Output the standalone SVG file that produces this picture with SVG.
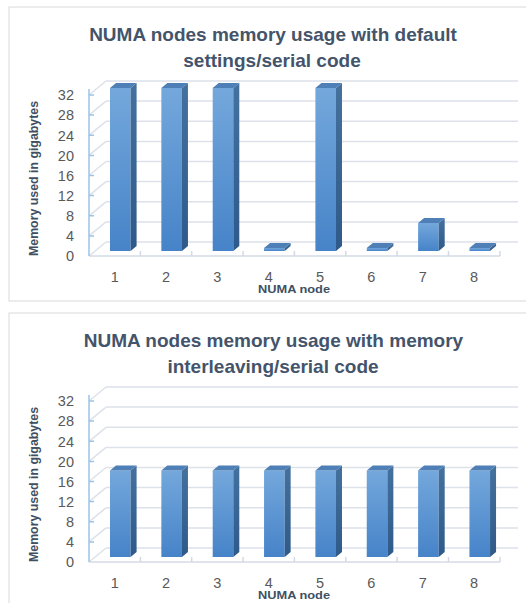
<svg xmlns="http://www.w3.org/2000/svg" width="526" height="603" viewBox="0 0 526 603">
  <defs>
    <linearGradient id="barFront" x1="0" y1="0" x2="0" y2="1">
      <stop offset="0" stop-color="#74a8dc"/>
      <stop offset="1" stop-color="#4683c8"/>
    </linearGradient>
    <linearGradient id="barSide" x1="0" y1="0" x2="0" y2="1">
      <stop offset="0" stop-color="#45719f"/>
      <stop offset="1" stop-color="#2e5988"/>
    </linearGradient>
    <style>
      .frame { fill: #ffffff; stroke: #d9d9d9; stroke-width: 1; }
      .grid { stroke: #dde2ea; stroke-width: 1.5; fill: none; }
      .floor { stroke: #d3dae6; stroke-width: 1.5; fill: none; }
      .vaxis { stroke: #9dc3e6; stroke-width: 1.5; fill: none; }
      .front { fill: url(#barFront); }
      .side { fill: url(#barSide); }
      .top { fill: #4e7fb6; }
      .title { font-family: "Liberation Sans", Arial, sans-serif; font-weight: bold; font-size: 19px; fill: #44546a; text-anchor: middle; }
      .tick { font-family: "Liberation Sans", Arial, sans-serif; font-size: 14.5px; fill: #595959; }
      .ylab { text-anchor: end; }
      .xlab { text-anchor: middle; }
      .axtitle { font-family: "Liberation Sans", Arial, sans-serif; font-weight: bold; font-size: 12.5px; fill: #404f62; text-anchor: middle; }
      .xtitle { font-size: 11px; }
    </style>
  </defs>

  <rect width="526" height="603" fill="#ffffff"/>

  <!-- ============ Chart 1: default settings ============ -->
  <g id="chart-default">
    <rect class="frame" x="9" y="7" width="530" height="294"/>
    <text class="title" x="273" y="41">NUMA nodes memory usage with default</text>
    <text class="title" x="272" y="67">settings/serial code</text>

    <g id="axes-default">
      <!-- back wall gridlines -->
      <path class="grid" d="M106 242H518M106 221.9H518M106 201.8H518M106 181.6H518M106 161.5H518M106 141.4H518M106 121.3H518M106 101.1H518M106 81H518"/>
      <!-- side wall diagonals -->
      <path class="grid" d="M89 256L106 242M89 235.9L106 221.9M89 215.8L106 201.8M89 195.6L106 181.6M89 175.5L106 161.5M89 155.4L106 141.4M89 135.3L106 121.3M89 115.1L106 101.1M89 95L106 81"/>
      <!-- floor front edge with category ticks -->
      <path class="floor" d="M89 256H500M140.4 256V251M191.7 256V251M243.1 256V251M294.4 256V251M345.8 256V251M397.1 256V251M448.5 256V251M500 256V251"/>
      <!-- vertical value axis with ticks -->
      <path class="vaxis" d="M89 89V256M89 235.9H94M89 215.8H94M89 195.6H94M89 175.5H94M89 155.4H94M89 135.3H94M89 115.1H94M89 95H94"/>
      <g class="tick ylab">
        <text x="74" y="261.2">0</text>
        <text x="74" y="241.1">4</text>
        <text x="74" y="221">8</text>
        <text x="74" y="200.8">12</text>
        <text x="74" y="180.7">16</text>
        <text x="74" y="160.6">20</text>
        <text x="74" y="140.5">24</text>
        <text x="74" y="120.3">28</text>
        <text x="74" y="100.2">32</text>
      </g>
      <g class="tick xlab">
        <text x="114.7" y="281.5">1</text>
        <text x="166" y="281.5">2</text>
        <text x="217.4" y="281.5">3</text>
        <text x="268.7" y="281.5">4</text>
        <text x="320.1" y="281.5">5</text>
        <text x="371.4" y="281.5">6</text>
        <text x="422.8" y="281.5">7</text>
        <text x="474.1" y="281.5">8</text>
      </g>
      <text class="axtitle xtitle" x="294" y="293" textLength="72" lengthAdjust="spacingAndGlyphs">NUMA node</text>
      <text class="axtitle" x="38" y="178.5" transform="rotate(-90 38 178.5)" textLength="155" lengthAdjust="spacingAndGlyphs">Memory used in gigabytes</text>
    </g>

    <g id="bars-default">
      <g id="d-node1" transform="translate(110 0)">
        <rect class="front" x="0" y="88" width="20.6" height="163"/>
        <polygon class="side" points="20.6,88 26.6,83 26.6,246 20.6,251"/>
        <polygon class="top" points="0,88 6,83 26.6,83 20.6,88"/>
      </g>
      <g id="d-node2" transform="translate(161.35 0)">
        <rect class="front" x="0" y="88" width="20.6" height="163"/>
        <polygon class="side" points="20.6,88 26.6,83 26.6,246 20.6,251"/>
        <polygon class="top" points="0,88 6,83 26.6,83 20.6,88"/>
      </g>
      <g id="d-node3" transform="translate(212.7 0)">
        <rect class="front" x="0" y="88" width="20.6" height="163"/>
        <polygon class="side" points="20.6,88 26.6,83 26.6,246 20.6,251"/>
        <polygon class="top" points="0,88 6,83 26.6,83 20.6,88"/>
      </g>
      <g id="d-node4" transform="translate(264.05 0)">
        <rect class="front" x="0" y="248" width="20.6" height="3"/>
        <polygon class="side" points="20.6,248 26.6,243 26.6,246 20.6,251"/>
        <polygon class="top" points="0,248 6,243 26.6,243 20.6,248"/>
      </g>
      <g id="d-node5" transform="translate(315.4 0)">
        <rect class="front" x="0" y="88" width="20.6" height="163"/>
        <polygon class="side" points="20.6,88 26.6,83 26.6,246 20.6,251"/>
        <polygon class="top" points="0,88 6,83 26.6,83 20.6,88"/>
      </g>
      <g id="d-node6" transform="translate(366.75 0)">
        <rect class="front" x="0" y="248" width="20.6" height="3"/>
        <polygon class="side" points="20.6,248 26.6,243 26.6,246 20.6,251"/>
        <polygon class="top" points="0,248 6,243 26.6,243 20.6,248"/>
      </g>
      <g id="d-node7" transform="translate(418.1 0)">
        <rect class="front" x="0" y="223" width="20.6" height="28"/>
        <polygon class="side" points="20.6,223 26.6,218 26.6,246 20.6,251"/>
        <polygon class="top" points="0,223 6,218 26.6,218 20.6,223"/>
      </g>
      <g id="d-node8" transform="translate(469.45 0)">
        <rect class="front" x="0" y="248" width="20.6" height="3"/>
        <polygon class="side" points="20.6,248 26.6,243 26.6,246 20.6,251"/>
        <polygon class="top" points="0,248 6,243 26.6,243 20.6,248"/>
      </g>
    </g>
  </g>

  <!-- ============ Chart 2: memory interleaving ============ -->
  <g id="chart-interleave" transform="translate(0 306)">
    <rect class="frame" x="9" y="7" width="530" height="294"/>
    <text class="title" x="273.5" y="41">NUMA nodes memory usage with memory</text>
    <text class="title" x="273" y="67">interleaving/serial code</text>

    <g id="axes-interleave">
      <path class="grid" d="M106 242H518M106 221.9H518M106 201.8H518M106 181.6H518M106 161.5H518M106 141.4H518M106 121.3H518M106 101.1H518M106 81H518"/>
      <path class="grid" d="M89 256L106 242M89 235.9L106 221.9M89 215.8L106 201.8M89 195.6L106 181.6M89 175.5L106 161.5M89 155.4L106 141.4M89 135.3L106 121.3M89 115.1L106 101.1M89 95L106 81"/>
      <path class="floor" d="M89 256H500M140.4 256V251M191.7 256V251M243.1 256V251M294.4 256V251M345.8 256V251M397.1 256V251M448.5 256V251M500 256V251"/>
      <path class="vaxis" d="M89 89V256M89 235.9H94M89 215.8H94M89 195.6H94M89 175.5H94M89 155.4H94M89 135.3H94M89 115.1H94M89 95H94"/>
      <g class="tick ylab">
        <text x="74" y="261.2">0</text>
        <text x="74" y="241.1">4</text>
        <text x="74" y="221">8</text>
        <text x="74" y="200.8">12</text>
        <text x="74" y="180.7">16</text>
        <text x="74" y="160.6">20</text>
        <text x="74" y="140.5">24</text>
        <text x="74" y="120.3">28</text>
        <text x="74" y="100.2">32</text>
      </g>
      <g class="tick xlab">
        <text x="114.7" y="281.5">1</text>
        <text x="166" y="281.5">2</text>
        <text x="217.4" y="281.5">3</text>
        <text x="268.7" y="281.5">4</text>
        <text x="320.1" y="281.5">5</text>
        <text x="371.4" y="281.5">6</text>
        <text x="422.8" y="281.5">7</text>
        <text x="474.1" y="281.5">8</text>
      </g>
      <text class="axtitle xtitle" x="294" y="293" textLength="72" lengthAdjust="spacingAndGlyphs">NUMA node</text>
      <text class="axtitle" x="38" y="178.5" transform="rotate(-90 38 178.5)" textLength="155" lengthAdjust="spacingAndGlyphs">Memory used in gigabytes</text>
    </g>

    <g id="bars-interleave">
      <g id="i-node1" transform="translate(110 0)">
        <rect class="front" x="0" y="164.5" width="20.6" height="86.5"/>
        <polygon class="side" points="20.6,164.5 26.6,159.5 26.6,246 20.6,251"/>
        <polygon class="top" points="0,164.5 6,159.5 26.6,159.5 20.6,164.5"/>
      </g>
      <g id="i-node2" transform="translate(161.35 0)">
        <rect class="front" x="0" y="164.5" width="20.6" height="86.5"/>
        <polygon class="side" points="20.6,164.5 26.6,159.5 26.6,246 20.6,251"/>
        <polygon class="top" points="0,164.5 6,159.5 26.6,159.5 20.6,164.5"/>
      </g>
      <g id="i-node3" transform="translate(212.7 0)">
        <rect class="front" x="0" y="164.5" width="20.6" height="86.5"/>
        <polygon class="side" points="20.6,164.5 26.6,159.5 26.6,246 20.6,251"/>
        <polygon class="top" points="0,164.5 6,159.5 26.6,159.5 20.6,164.5"/>
      </g>
      <g id="i-node4" transform="translate(264.05 0)">
        <rect class="front" x="0" y="164.5" width="20.6" height="86.5"/>
        <polygon class="side" points="20.6,164.5 26.6,159.5 26.6,246 20.6,251"/>
        <polygon class="top" points="0,164.5 6,159.5 26.6,159.5 20.6,164.5"/>
      </g>
      <g id="i-node5" transform="translate(315.4 0)">
        <rect class="front" x="0" y="164.5" width="20.6" height="86.5"/>
        <polygon class="side" points="20.6,164.5 26.6,159.5 26.6,246 20.6,251"/>
        <polygon class="top" points="0,164.5 6,159.5 26.6,159.5 20.6,164.5"/>
      </g>
      <g id="i-node6" transform="translate(366.75 0)">
        <rect class="front" x="0" y="164.5" width="20.6" height="86.5"/>
        <polygon class="side" points="20.6,164.5 26.6,159.5 26.6,246 20.6,251"/>
        <polygon class="top" points="0,164.5 6,159.5 26.6,159.5 20.6,164.5"/>
      </g>
      <g id="i-node7" transform="translate(418.1 0)">
        <rect class="front" x="0" y="164.5" width="20.6" height="86.5"/>
        <polygon class="side" points="20.6,164.5 26.6,159.5 26.6,246 20.6,251"/>
        <polygon class="top" points="0,164.5 6,159.5 26.6,159.5 20.6,164.5"/>
      </g>
      <g id="i-node8" transform="translate(469.45 0)">
        <rect class="front" x="0" y="164.5" width="20.6" height="86.5"/>
        <polygon class="side" points="20.6,164.5 26.6,159.5 26.6,246 20.6,251"/>
        <polygon class="top" points="0,164.5 6,159.5 26.6,159.5 20.6,164.5"/>
      </g>
    </g>
  </g>
</svg>
